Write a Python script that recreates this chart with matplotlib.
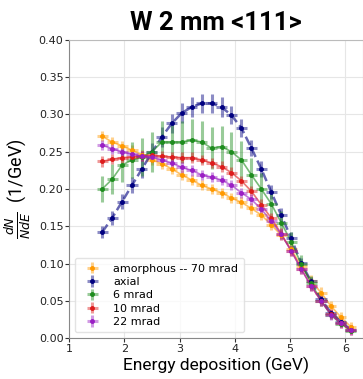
import matplotlib
matplotlib.use("Agg")
import matplotlib.pyplot as plt
import numpy as np

# bin centres (GeV)
energy = [1.60, 1.78, 1.96, 2.14, 2.32, 2.50, 2.68, 2.86, 3.04, 3.22, 3.40, 3.58, 3.76,
          3.94, 4.12, 4.30, 4.48, 4.66, 4.84, 5.02, 5.20, 5.38, 5.56, 5.74, 5.92, 6.10]
bin_half = 0.10

amorphous = [0.271, 0.263, 0.258, 0.252, 0.246, 0.239, 0.234, 0.227, 0.219, 0.212, 0.205, 0.200, 0.195,
             0.188, 0.182, 0.174, 0.165, 0.152, 0.138, 0.119, 0.097, 0.077, 0.061, 0.043, 0.028, 0.015]
axial = [0.142, 0.161, 0.183, 0.205, 0.227, 0.249, 0.270, 0.288, 0.302, 0.310, 0.315, 0.315, 0.310,
         0.299, 0.282, 0.255, 0.227, 0.196, 0.165, 0.134, 0.101, 0.076, 0.052, 0.034, 0.022, 0.011]
mrad6 = [0.200, 0.213, 0.232, 0.239, 0.243, 0.250, 0.263, 0.263, 0.263, 0.266, 0.263, 0.255, 0.257,
         0.250, 0.239, 0.219, 0.200, 0.180, 0.155, 0.129, 0.100, 0.074, 0.050, 0.031, 0.019, 0.010]
mrad10 = [0.237, 0.240, 0.242, 0.243, 0.244, 0.245, 0.244, 0.243, 0.242, 0.242, 0.239, 0.235, 0.230,
          0.222, 0.211, 0.197, 0.179, 0.161, 0.140, 0.117, 0.093, 0.070, 0.050, 0.032, 0.020, 0.011]
mrad22 = [0.259, 0.254, 0.250, 0.247, 0.244, 0.243, 0.239, 0.235, 0.229, 0.225, 0.219, 0.216, 0.212,
          0.205, 0.195, 0.186, 0.173, 0.157, 0.139, 0.117, 0.093, 0.070, 0.050, 0.031, 0.020, 0.011]

# vertical errors
err_amorphous = 0.007
err_axial = [0.008, 0.009, 0.010, 0.011, 0.012, 0.013, 0.013, 0.013, 0.013, 0.013, 0.013, 0.013, 0.013,
             0.012, 0.012, 0.011, 0.011, 0.010, 0.009, 0.008, 0.007, 0.006, 0.005, 0.004, 0.003, 0.003]
err_6 = [0.018, 0.020, 0.022, 0.024, 0.026, 0.027, 0.028, 0.028, 0.028, 0.028, 0.028, 0.028, 0.027,
         0.026, 0.025, 0.023, 0.021, 0.018, 0.016, 0.013, 0.011, 0.009, 0.007, 0.005, 0.004, 0.003]
err_10 = 0.007
err_22 = 0.007

series = [
    ("amorphous -- 70 mrad", amorphous, err_amorphous, "#ff9900", "-"),
    ("axial", axial, err_axial, "#000080", "--"),
    ("6 mrad", mrad6, err_6, "#1e8c1e", "-"),
    ("10 mrad", mrad10, err_10, "#dd1c1c", "-"),
    ("22 mrad", mrad22, err_22, "#9a1fc4", "-"),
]

fig = plt.figure(figsize=(3.63, 3.79), dpi=100)
ax = fig.add_axes([69/363, 1-338/379, 1-69/363, (338-40)/379])

for label, y, err, col, ls in series:
    eb = ax.errorbar(energy, y, xerr=bin_half, yerr=err, fmt='o', ms=2.5, color=col,
                     ecolor=col, elinewidth=2.2, capsize=0, label=label)
    eb[2][0].set_alpha(0.45)
    eb[2][1].set_alpha(0.45)
    ax.plot(energy, y, ls=ls, color=col, lw=1.8 if ls == "--" else 1.2, alpha=0.6)

ax.set_xlim(1, 6.32)
ax.set_ylim(0, 0.40)
ax.set_xticks([1, 2, 3, 4, 5, 6])
ax.set_yticks(np.arange(0, 0.41, 0.05))
ax.set_yticklabels(["%.2f" % v for v in np.arange(0, 0.41, 0.05)])
ax.tick_params(labelsize=8, length=3, color="#333333", labelcolor="#222222", pad=1)
ax.grid(True, color="#e6e6e6", lw=0.8)
ax.set_axisbelow(True)
for s in ax.spines.values():
    s.set_color("#bbbbbb")
ax.spines["left"].set_color("#888888")
ax.spines["bottom"].set_color("#888888")

ax.set_title("W 2 mm <111>", fontsize=18.5, fontweight="bold", family="Roboto", pad=7)
ax.set_xlabel("Energy deposition (GeV)", fontsize=12.5, family="Roboto", labelpad=2)
ax.set_ylabel(r"$\frac{dN}{NdE}$  (1/GeV)", fontsize=13, family="Roboto", labelpad=4)

leg = ax.legend(loc="lower left", fontsize=8, frameon=True, handlelength=2.2,
                borderpad=0.5, labelspacing=0.3, handletextpad=0.8)
leg.get_frame().set_edgecolor("#dddddd")

fig.savefig("out.png", dpi=100)
